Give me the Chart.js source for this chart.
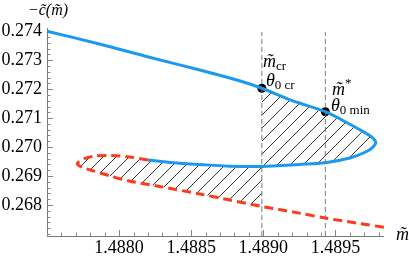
<!DOCTYPE html>
<html>
<head>
<meta charset="utf-8">
<script src="https://cdn.jsdelivr.net/npm/chart.js@4.4.1/dist/chart.umd.min.js"></script>
<style>
html, body { margin: 0; padding: 0; background: #fff; }
#box { width: 409px; height: 258px; }
</style>
</head>
<body>
<div id="box"><canvas id="plot" width="409" height="258"></canvas></div>
<script>
// stable branch: upper part, turning point, lower part back to where it meets the dashed one
const blueM = [1.48750, 1.48787, 1.48821, 1.48856, 1.48884, 1.48899, 1.48919, 1.48943, 1.48961, 1.48971, 1.48976,
               1.48978, 1.48976, 1.48971, 1.48960, 1.48943, 1.48925, 1.48899, 1.48877, 1.48856, 1.48835, 1.48820];
const blueC = [0.27400, 0.27355, 0.27310, 0.27266, 0.27228, 0.27203, 0.27162, 0.27122, 0.27076, 0.27048, 0.27031,
               0.27016, 0.27000, 0.26983, 0.26962, 0.26946, 0.26940, 0.26933, 0.26934, 0.26940, 0.26947, 0.26955];
// unstable branch (dashed), starting at the junction
const redM = [1.48820, 1.48807, 1.48794, 1.48783, 1.48776, 1.48771, 1.48774, 1.48780, 1.48794,
              1.48807, 1.48828, 1.48856, 1.48877, 1.48899, 1.48925, 1.48943, 1.48967, 1.48985];
const redC = [0.26955, 0.26966, 0.26971, 0.26969, 0.26960, 0.26943, 0.26931, 0.26921, 0.26900,
              0.26883, 0.26864, 0.26838, 0.26817, 0.26795, 0.26772, 0.26755, 0.26736, 0.26722];

const mCr = 1.48899;
const mStar = 1.48943;
const markM = [mCr, mStar];
const markC = [0.27203, 0.27122];
const dashTop = 0.27397;

const xTickLabels = ['1.4880', '1.4885', '1.4890', '1.4895'];
const yTickLabels = ['0.268', '0.269', '0.270', '0.271', '0.272', '0.273', '0.274'];

const xMin = 1.4875, xMax = 1.48983;
const yMin = 0.26693, yMax = 0.27411;

const serif = "'Liberation Serif', 'DejaVu Serif', serif";

function pairs(xs, ys) {
    return xs.map((x, i) => ({x: x, y: ys[i]}));
}

function labelFor(list, v) {
    const hit = list.find(l => Math.abs(parseFloat(l) - v) < 1e-8);
    return hit === undefined ? '' : hit;
}

// the whole curve in order, used to cut out the two hatched loops
const curveM = blueM.concat(redM.slice(1));
const curveC = blueC.concat(redC.slice(1));
const crIdx = [];
curveM.forEach((m, i) => { if (m === mCr) crIdx.push(i); });

function hatchPattern(ctx) {
    const t = document.createElement('canvas');
    t.width = 13;
    t.height = 13;
    const g = t.getContext('2d');
    g.strokeStyle = '#000';
    g.lineWidth = 0.8;
    g.beginPath();
    g.moveTo(0, 13); g.lineTo(13, 0);
    g.moveTo(-3, 3); g.lineTo(3, -3);
    g.moveTo(10, 16); g.lineTo(16, 10);
    g.stroke();
    return ctx.createPattern(t, 'repeat');
}

const hatch = {
    id: 'hatch',
    beforeDatasetsDraw(chart) {
        const {ctx, scales: {x, y}} = chart;
        const pat = hatchPattern(ctx);
        ctx.save();
        ctx.fillStyle = pat;
        [[crIdx[0], crIdx[1]], [crIdx[1], crIdx[2]]].forEach(([a, b]) => {
            ctx.beginPath();
            for (let i = a; i <= b; i++) {
                const px = x.getPixelForValue(curveM[i]);
                const py = y.getPixelForValue(curveC[i]);
                if (i === a) ctx.moveTo(px, py); else ctx.lineTo(px, py);
            }
            ctx.closePath();
            ctx.fill();
        });
        ctx.restore();
    }
};

const innerTicks = {
    id: 'innerTicks',
    beforeDatasetsDraw(chart) {
        const {ctx, chartArea: a, scales: {x, y}} = chart;
        ctx.save();
        ctx.strokeStyle = '#888';
        ctx.lineWidth = 1;
        ctx.beginPath();
        x.ticks.forEach(t => {
            const px = Math.round(x.getPixelForValue(t.value)) + 0.5;
            const len = t.label ? 6 : 3.5;
            ctx.moveTo(px, a.bottom);
            ctx.lineTo(px, a.bottom - len);
        });
        y.ticks.forEach(t => {
            const py = Math.round(y.getPixelForValue(t.value)) + 0.5;
            const len = t.label ? 6 : 3.5;
            ctx.moveTo(a.left, py);
            ctx.lineTo(a.left + len, py);
        });
        ctx.stroke();
        ctx.restore();
    }
};

function runs(ctx, x0, parts) {
    let x = x0;
    parts.forEach(p => {
        ctx.font = p[0];
        ctx.fillText(p[1], x, p[2]);
        x += ctx.measureText(p[1]).width + (p[3] || 0);
    });
}

const texts = {
    id: 'texts',
    afterDraw(chart) {
        const {ctx, chartArea: a} = chart;
        ctx.save();
        ctx.fillStyle = '#000';
        ctx.textBaseline = 'alphabetic';
        const it = 'italic 18px ' + serif;
        const sub = '13px ' + serif;
        // axis titles: vertical one centred over the y axis, horizontal one past the x axis end
        ctx.textAlign = 'center';
        ctx.font = 'italic 16px ' + serif;
        ctx.fillText('\u2212c\u0303(m\u0303)', a.left + 1, 15);
        ctx.textAlign = 'left';
        runs(ctx, a.right + 13, [[it, 'm\u0303', 240]]);
        runs(ctx, 263, [[it, 'm\u0303', 67], [sub, 'cr', 70]]);
        runs(ctx, 266, [[it, '\u03b8', 86], [sub, '0 cr', 89]]);
        runs(ctx, 332, [[it, 'm\u0303', 95], [sub, '*', 87]]);
        runs(ctx, 331, [[it, '\u03b8', 111], [sub, '0 min', 114]]);
        ctx.restore();
    }
};

new Chart(document.getElementById('plot'), {
    type: 'scatter',
    data: {
        datasets: [
            {
                data: pairs([mCr, mCr], [yMin, dashTop]),
                showLine: true, borderColor: '#777', borderWidth: 1, borderDash: [5, 3],
                pointRadius: 0
            },
            {
                data: pairs([mStar, mStar], [yMin, dashTop]),
                showLine: true, borderColor: '#777', borderWidth: 1, borderDash: [5, 3],
                pointRadius: 0
            },
            {
                data: pairs(redM, redC),
                showLine: true, borderColor: '#ff3a1a', borderWidth: 3, borderDash: [9, 5],
                tension: 0.3, pointRadius: 0, clip: 6
            },
            {
                data: pairs(blueM, blueC),
                showLine: true, borderColor: '#1b98f0', borderWidth: 3,
                tension: 0.3, pointRadius: 0, clip: 6
            },
            {
                data: pairs(markM, markC),
                showLine: false, pointRadius: 4.5, pointBackgroundColor: '#000',
                pointBorderColor: '#000', pointBorderWidth: 0
            }
        ]
    },
    options: {
        responsive: false,
        animation: false,
        devicePixelRatio: 1,
        layout: {padding: {left: 0, right: 26, top: 28, bottom: 0}},
        plugins: {legend: {display: false}, tooltip: {enabled: false}},
        scales: {
            x: {
                type: 'linear', min: xMin, max: xMax,
                afterFit: s => { s.height = 22; },
                grid: {drawOnChartArea: false, drawTicks: false},
                border: {display: true, color: '#777', width: 1},
                ticks: {
                    stepSize: 0.0001, autoSkip: false, maxRotation: 0, includeBounds: false,
                    padding: 1, color: '#000', font: {family: serif, size: 18},
                    callback: v => labelFor(xTickLabels, v)
                }
            },
            y: {
                type: 'linear', min: yMin, max: yMax,
                afterFit: s => { s.width = 47; },
                grid: {drawOnChartArea: false, drawTicks: false},
                border: {display: true, color: '#777', width: 1},
                ticks: {
                    stepSize: 0.0002, autoSkip: false, includeBounds: false,
                    padding: 5, color: '#000', font: {family: serif, size: 18},
                    callback: v => labelFor(yTickLabels, v)
                }
            }
        }
    },
    plugins: [hatch, innerTicks, texts]
});
</script>
</body>
</html>
